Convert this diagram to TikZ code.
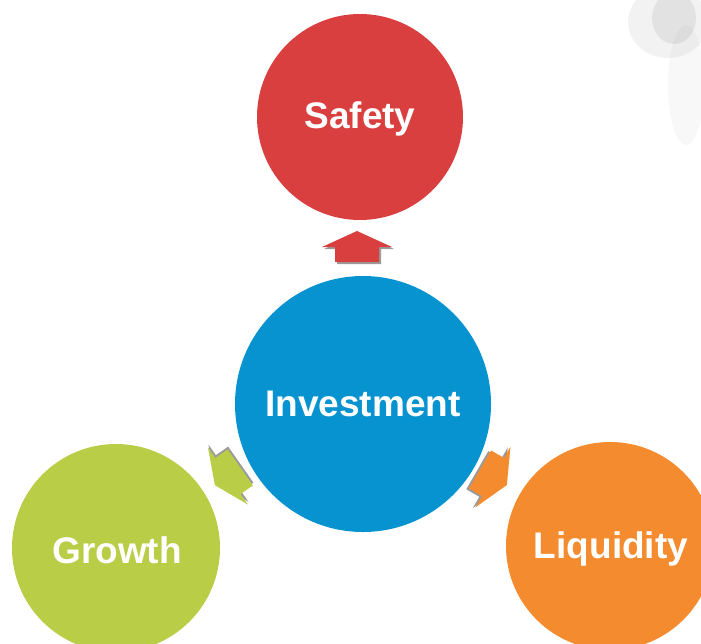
\documentclass[tikz,border=0pt]{standalone}
\usepackage{fontspec}
\setmainfont{Liberation Sans}
\definecolor{cred}{HTML}{DA3F3F}
\definecolor{cblue}{HTML}{0792D0}
\definecolor{cgreen}{HTML}{B9CD46}
\definecolor{corange}{HTML}{F48C2F}
\definecolor{shadowgray}{HTML}{9A9A9A}
\tikzset{
  bubble/.style={circle, inner sep=0pt, text=white,
    font=\bfseries\fontsize{37}{40}\selectfont},
  bubbletext/.style={inner sep=0pt, text=white,
    font=\bfseries\fontsize{37}{40}\selectfont},
  pics/bigarrow/.style={code={
    \begin{scope}[shift={(2,2)}]
      \fill[shadowgray] (0,-16) -- (35,0) -- (22,0) -- (22,15) -- (-22,15) -- (-22,0) -- (-35,0) -- cycle;
    \end{scope}
    \fill[#1] (0,-16) -- (35,0) -- (22,0) -- (22,15) -- (-22,15) -- (-22,0) -- (-35,0) -- cycle;
  }}
}
\begin{document}
\begin{tikzpicture}[x=1pt,y=-1pt]
\useasboundingbox (0,0) rectangle (701,643);
\clip (0,0) rectangle (701,643);
% faint grey blur in the top right corner
\fill[gray, opacity=0.10] (668,22) ellipse (40 and 36);
\fill[gray, opacity=0.14] (674,18) ellipse (22 and 26);
\fill[gray, opacity=0.06] (686,85) ellipse (18 and 60);
% circles
\node[bubble, fill=cred, minimum size=206pt] (safety) at (360,117) {};
\node[bubbletext] (safetytxt) at (360,119) {Safety};
\node[bubble, fill=cblue, minimum size=256pt] (invest) at (363,404) {Investment};
\node[bubble, fill=cgreen, minimum size=208pt] (growth) at (116,548) {};
\node[bubbletext] (growthtxt) at (117,550) {Growth};
\node[bubble, fill=corange, minimum size=208pt] (liquid) at (610,546) {};
\node[bubbletext] (liquidtxt) at (611,549) {Liquidity};
% arrows
\pic at (357,247) {bigarrow=cred};
\pic[rotate=125] at (228,476) {bigarrow=cgreen};
\pic[rotate=-120] at (493,477) {bigarrow=corange};
\end{tikzpicture}
\end{document}
